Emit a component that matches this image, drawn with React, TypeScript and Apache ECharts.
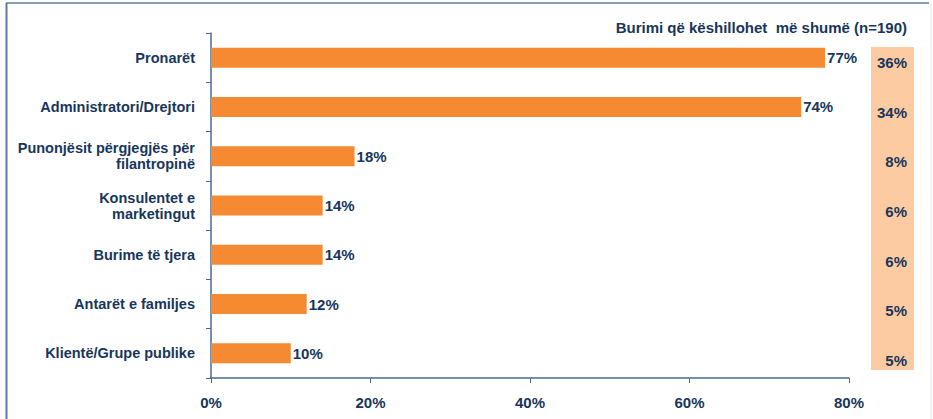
import React, { useEffect, useRef } from "react";
import * as echarts from "echarts";

const categories = [
  "Pronarët",
  "Administratori/Drejtori",
  "Punonjësit përgjegjës për\nfilantropinë",
  "Konsulentet e\nmarketingut",
  "Burime të tjera",
  "Antarët e familjes",
  "Klientë/Grupe publike",
];
const values = [77, 74, 18, 14, 14, 12, 10];
const mostRecommended = [36, 34, 8, 6, 6, 5, 5];
const xTicks = [0, 20, 40, 60, 80];
const title = "Burimi që këshillohet  më shumë (n=190)";

const NAVY = "#17365D";
const FONT = "'Liberation Sans', Arial, sans-serif";

export default function App() {
  const ref = useRef<HTMLDivElement>(null);
  useEffect(() => {
    if (!ref.current) return;
    const chart = echarts.init(ref.current, undefined, { renderer: "svg" });
    chart.setOption({
      animation: false,
      backgroundColor: "#ffffff",
      textStyle: { fontFamily: FONT },
      title: {
        text: title,
        right: 21,
        top: 15,
        textStyle: { color: NAVY, fontSize: 15, fontWeight: "bold", fontFamily: FONT },
      },
      grid: [
        { left: 211, right: 84, top: 33, bottom: 41 },
        { left: 871, width: 43, top: 38, height: 347 },
      ],
      xAxis: [
        {
          gridIndex: 0,
          type: "value",
          min: xTicks[0],
          max: xTicks[xTicks.length - 1],
          interval: 20,
          axisLine: { show: true, lineStyle: { color: "#4A6890", width: 1.5 } },
          axisTick: { show: true, length: 5, lineStyle: { color: "#4A6890" } },
          splitLine: { show: false },
          axisLabel: {
            color: NAVY,
            fontSize: 15,
            fontWeight: "bold",
            fontFamily: FONT,
            margin: 17,
            formatter: (v: number) => v + "%",
          },
        },
        { gridIndex: 1, type: "value", show: false, min: 0, max: 1 },
      ],
      yAxis: [
        {
          gridIndex: 0,
          type: "category",
          inverse: true,
          data: categories,
          axisLine: { show: true, lineStyle: { color: "#4A6890", width: 1.5 } },
          axisTick: { show: true, length: 5, lineStyle: { color: "#4A6890" } },
          axisLabel: {
            color: NAVY,
            fontSize: 14.5,
            fontWeight: "bold",
            fontFamily: FONT,
            margin: 16,
            lineHeight: 16,
            align: "right",
          },
        },
        {
          gridIndex: 1,
          type: "category",
          inverse: true,
          position: "right",
          data: mostRecommended.map((v) => v + "%"),
          axisLine: { show: false },
          axisTick: { show: false },
          axisLabel: {
            inside: true,
            margin: 7,
            color: NAVY,
            fontSize: 15,
            fontWeight: "bold",
            fontFamily: FONT,
          },
        },
      ],
      graphic: [
        {
          type: "rect",
          shape: { x: 871, y: 47, width: 43, height: 323 },
          style: { fill: "#FCCBA1" },
          z: -10,
        },
        {
          type: "line",
          shape: { x1: 6, y1: 3, x2: 929, y2: 3 },
          style: { stroke: "#8C9DB3", lineWidth: 2 },
        },
        {
          type: "line",
          shape: { x1: 6.5, y1: 3, x2: 6.5, y2: 419 },
          style: { stroke: "#5B7BA6", lineWidth: 2 },
        },
        {
          type: "line",
          shape: { x1: 931, y1: 3, x2: 931, y2: 419 },
          style: { stroke: "#E3E6EA", lineWidth: 1 },
        },
      ],
      series: [
        {
          type: "bar",
          xAxisIndex: 0,
          yAxisIndex: 0,
          data: values,
          barWidth: 20,
          itemStyle: { color: "#F58A33" },
          label: {
            show: true,
            position: "right",
            distance: 2,
            color: NAVY,
            fontSize: 15,
            fontWeight: "bold",
            fontFamily: FONT,
            formatter: (p: any) => p.value + "%",
          },
        },
      ],
    });
    return () => chart.dispose();
  }, []);
  return (
    <div
      ref={ref}
      style={{ position: "absolute", left: 0, top: 0, width: 933, height: 419 }}
    />
  );
}
